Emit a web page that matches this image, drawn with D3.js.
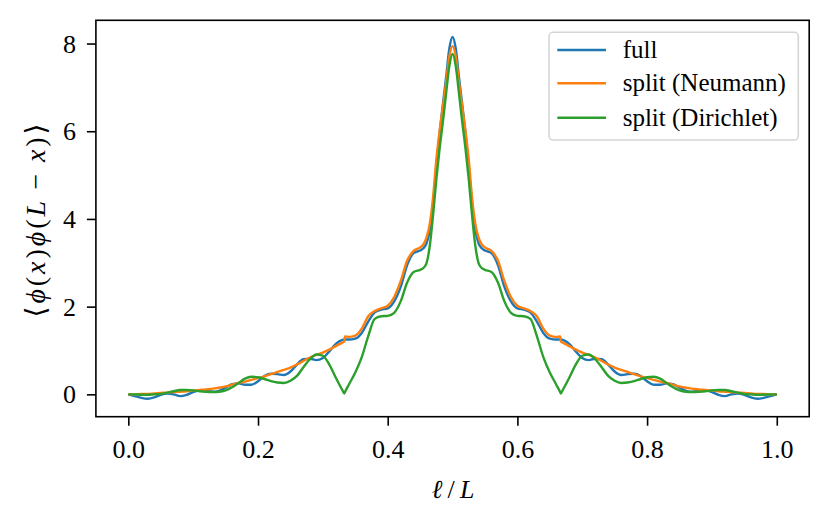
<!DOCTYPE html>
<html>
<head>
<meta charset="utf-8">
<script src="https://cdn.jsdelivr.net/npm/d3@7"></script>
<style>
  body { margin: 0; background: #fff; }
  svg text { font-family: "Liberation Serif", "DejaVu Serif", serif; fill: #000; }
</style>
</head>
<body>
<svg id="chart" width="830" height="526"></svg>
<script>
// positions l/L along the chain (finer around the peak, extra points at the 1/3 and 2/3 kinks)
var ell = [
  0.00, 0.01, 0.02, 0.03, 0.04, 0.05, 0.06, 0.07, 0.08, 0.09,
  0.10, 0.11, 0.12, 0.13, 0.14, 0.15, 0.16, 0.17, 0.18, 0.19,
  0.20, 0.21, 0.22, 0.23, 0.24, 0.25, 0.26, 0.27, 0.28, 0.29,
  0.30, 0.31, 0.32, 0.33, 0.333, 0.334, 0.34, 0.35, 0.36, 0.37,
  0.38, 0.39, 0.40, 0.41, 0.42, 0.43, 0.44, 0.45,
  0.455, 0.46, 0.465, 0.47, 0.475, 0.48, 0.485, 0.49, 0.495, 0.50,
  0.505, 0.51, 0.515, 0.52, 0.525, 0.53, 0.535, 0.54, 0.545,
  0.55, 0.56, 0.57, 0.58, 0.59, 0.60, 0.61, 0.62, 0.63, 0.64, 0.65, 0.66, 0.666, 0.667,
  0.67, 0.68, 0.69, 0.70, 0.71, 0.72, 0.73, 0.74, 0.75, 0.76,
  0.77, 0.78, 0.79, 0.80, 0.81, 0.82, 0.83, 0.84, 0.85, 0.86,
  0.87, 0.88, 0.89, 0.90, 0.91, 0.92, 0.93, 0.94, 0.95, 0.96,
  0.97, 0.98, 0.99, 1.00
];

var full = [
  0.00, -0.04, -0.08, -0.10, -0.07, -0.01, 0.02, 0.00, -0.04, -0.01,
  0.05, 0.09, 0.08, 0.06, 0.08, 0.15, 0.23, 0.25, 0.22, 0.22,
  0.30, 0.42, 0.47, 0.46, 0.44, 0.52, 0.68, 0.80, 0.81, 0.78,
  0.83, 0.98, 1.15, 1.24, 1.25, 1.25, 1.25, 1.27, 1.40, 1.66,
  1.87, 1.93, 1.96, 2.12, 2.45, 2.95, 3.22, 3.28,
  3.33, 3.45, 3.75, 4.35, 5.20, 5.95, 6.60, 7.22, 7.88, 8.15,
  7.88, 7.22, 6.60, 5.95, 5.20, 4.35, 3.75, 3.45, 3.33,
  3.28, 3.22, 2.95, 2.45, 2.12, 1.96, 1.93, 1.87, 1.66, 1.40, 1.27, 1.25, 1.25, 1.25,
  1.24, 1.15, 0.98, 0.83, 0.78, 0.81, 0.80, 0.68, 0.52, 0.44,
  0.46, 0.47, 0.42, 0.30, 0.22, 0.22, 0.25, 0.23, 0.15, 0.08,
  0.06, 0.08, 0.09, 0.05, -0.01, -0.04, 0.00, 0.02, -0.01, -0.07,
  -0.10, -0.08, -0.04, 0.00
];

var splitNeumann = [
  0.00, 0.00, 0.01, 0.01, 0.02, 0.03, 0.04, 0.05, 0.06, 0.07,
  0.09, 0.10, 0.11, 0.13, 0.15, 0.18, 0.22, 0.26, 0.29, 0.33,
  0.37, 0.41, 0.46, 0.51, 0.56, 0.61, 0.68, 0.76, 0.84, 0.90,
  0.95, 1.02, 1.10, 1.18, 1.20, 1.32, 1.31, 1.34, 1.50, 1.78,
  1.90, 1.96, 2.02, 2.22, 2.58, 3.05, 3.27, 3.35,
  3.42, 3.58, 3.90, 4.50, 5.35, 6.00, 6.55, 7.10, 7.70, 7.94,
  7.70, 7.10, 6.55, 6.00, 5.35, 4.50, 3.90, 3.58, 3.42,
  3.35, 3.27, 3.05, 2.58, 2.22, 2.02, 1.96, 1.90, 1.78, 1.50, 1.34, 1.31, 1.32, 1.20,
  1.18, 1.10, 1.02, 0.95, 0.90, 0.84, 0.76, 0.68, 0.61, 0.56,
  0.51, 0.46, 0.41, 0.37, 0.33, 0.29, 0.26, 0.22, 0.18, 0.15,
  0.13, 0.11, 0.10, 0.09, 0.07, 0.06, 0.05, 0.04, 0.03, 0.02,
  0.01, 0.01, 0.00, 0.00
];

var splitDirichlet = [
  0.00, 0.00, -0.01, -0.01, 0.00, 0.01, 0.04, 0.07, 0.10, 0.10,
  0.09, 0.07, 0.06, 0.055, 0.06, 0.09, 0.16, 0.26, 0.36, 0.40,
  0.39, 0.35, 0.30, 0.27, 0.26, 0.31, 0.42, 0.62, 0.80, 0.91,
  0.88, 0.68, 0.38, 0.10, 0.02, 0.05, 0.22, 0.50, 0.85, 1.33,
  1.72, 1.78, 1.79, 1.86, 2.12, 2.55, 2.79, 2.84,
  2.88, 3.00, 3.40, 4.10, 4.90, 5.60, 6.20, 6.85, 7.48, 7.76,
  7.48, 6.85, 6.20, 5.60, 4.90, 4.10, 3.40, 3.00, 2.88,
  2.84, 2.79, 2.55, 2.12, 1.86, 1.79, 1.78, 1.72, 1.33, 0.85, 0.50, 0.22, 0.05, 0.02,
  0.10, 0.38, 0.68, 0.88, 0.91, 0.80, 0.62, 0.42, 0.31, 0.26,
  0.27, 0.30, 0.35, 0.39, 0.40, 0.36, 0.26, 0.16, 0.09, 0.06,
  0.055, 0.06, 0.07, 0.09, 0.10, 0.10, 0.07, 0.04, 0.01, 0.00,
  -0.01, -0.01, 0.00, 0.00
];

var seriesNames = ['full', 'split (Neumann)', 'split (Dirichlet)'];
var seriesColors = ['#1f77b4', '#ff7f0e', '#2ca02c'];
var xTicks = [0.0, 0.2, 0.4, 0.6, 0.8, 1.0];
var yTicks = [0, 2, 4, 6, 8];

var svg = d3.select('#chart');

var plotLeft = 95.9, plotRight = 809.2, plotTop = 20.3, plotBottom = 416.7;

var x = d3.scaleLinear().domain([-0.05, 1.05]).range([plotLeft, plotRight]);
var y = d3.scaleLinear().domain([-0.51, 8.53]).range([plotBottom, plotTop]);

var series = [full, splitNeumann, splitDirichlet].map(function (vals, i) {
    return {
        name: seriesNames[i],
        color: seriesColors[i],
        points: vals.map(function (v, j) { return [ell[j], v]; })
    };
});

var line = d3.line()
    .x(function (d) { return x(d[0]); })
    .y(function (d) { return y(d[1]); })
    .curve(d3.curveMonotoneX);

svg.append('defs').append('clipPath')
    .attr('id', 'plot-clip')
    .append('rect')
    .attr('x', plotLeft)
    .attr('y', plotTop)
    .attr('width', plotRight - plotLeft)
    .attr('height', plotBottom - plotTop);

// curves
svg.append('g')
    .attr('clip-path', 'url(#plot-clip)')
    .selectAll('path')
    .data(series)
    .enter()
    .append('path')
    .attr('d', function (d) { return line(d.points); })
    .attr('fill', 'none')
    .attr('stroke', function (d) { return d.color; })
    .attr('stroke-width', 2.4)
    .attr('stroke-linejoin', 'round');

// axes
var xAxis = svg.append('g')
    .attr('transform', 'translate(0,' + plotBottom + ')')
    .call(d3.axisBottom(x)
        .tickValues(xTicks)
        .tickFormat(d3.format('.1f'))
        .tickSize(9)
        .tickSizeOuter(0));
xAxis.select('.domain').remove();
xAxis.selectAll('line').attr('stroke', '#000').attr('stroke-width', 1.6);
xAxis.selectAll('text')
    .attr('y', 41)
    .attr('dy', null)
    .style('font-size', '26px')
    .style('font-family', '"Liberation Serif", "DejaVu Serif", serif');

var yAxis = svg.append('g')
    .attr('transform', 'translate(' + plotLeft + ',0)')
    .call(d3.axisLeft(y)
        .tickValues(yTicks)
        .tickFormat(d3.format('d'))
        .tickSize(9)
        .tickPadding(11)
        .tickSizeOuter(0));
yAxis.select('.domain').remove();
yAxis.selectAll('line').attr('stroke', '#000').attr('stroke-width', 1.6);
yAxis.selectAll('text')
    .attr('dy', '0.33em')
    .style('font-size', '26px')
    .style('font-family', '"Liberation Serif", "DejaVu Serif", serif');

// frame
svg.append('rect')
    .attr('x', plotLeft)
    .attr('y', plotTop)
    .attr('width', plotRight - plotLeft)
    .attr('height', plotBottom - plotTop)
    .attr('fill', 'none')
    .attr('stroke', '#000')
    .attr('stroke-width', 1.6);

// axis labels
var xLabel = svg.append('text')
    .attr('x', (plotLeft + plotRight) / 2 + 0.5)
    .attr('y', 498)
    .attr('text-anchor', 'middle')
    .style('font-size', '26px');
xLabel.append('tspan').style('font-style', 'italic').text('\u2113');
xLabel.append('tspan').text('\u2009/\u2009');
xLabel.append('tspan').style('font-style', 'italic').text('L');

var yLabel = svg.append('text')
    .attr('transform', 'translate(45,' + ((plotTop + plotBottom) / 2 + 2) + ') rotate(-90)')
    .attr('text-anchor', 'middle')
    .attr('textLength', 194)
    .attr('lengthAdjust', 'spacing')
    .style('font-size', '28px');
[['\u27E8', false], ['\u03D5', true], ['(', false], ['x', true], [')', false],
 ['\u03D5', true], ['(', false], ['L', true], ['\u2009\u2212\u2009', false], ['x', true],
 [')', false], ['\u27E9', false]].forEach(function (p) {
    yLabel.append('tspan')
        .style('font-style', p[1] ? 'italic' : 'normal')
        .text(p[0]);
});

// legend
var legend = svg.append('g');
legend.append('rect')
    .attr('x', 549)
    .attr('y', 32.3)
    .attr('width', 249.3)
    .attr('height', 107.7)
    .attr('rx', 4)
    .attr('fill', '#fff')
    .attr('fill-opacity', 0.8)
    .attr('stroke', '#d6d6d6')
    .attr('stroke-width', 1.6);

var rowY = [50, 83.3, 117.7];
var rows = legend.selectAll('g.row')
    .data(series)
    .enter()
    .append('g')
    .attr('class', 'row')
    .attr('transform', function (d, i) { return 'translate(0,' + rowY[i] + ')'; });
rows.append('line')
    .attr('x1', 557.3)
    .attr('x2', 606)
    .attr('stroke', function (d) { return d.color; })
    .attr('stroke-width', 2.4);
rows.append('text')
    .attr('x', 622.7)
    .attr('y', 8)
    .style('font-size', '25px')
    .text(function (d) { return d.name; });
</script>
</body>
</html>
